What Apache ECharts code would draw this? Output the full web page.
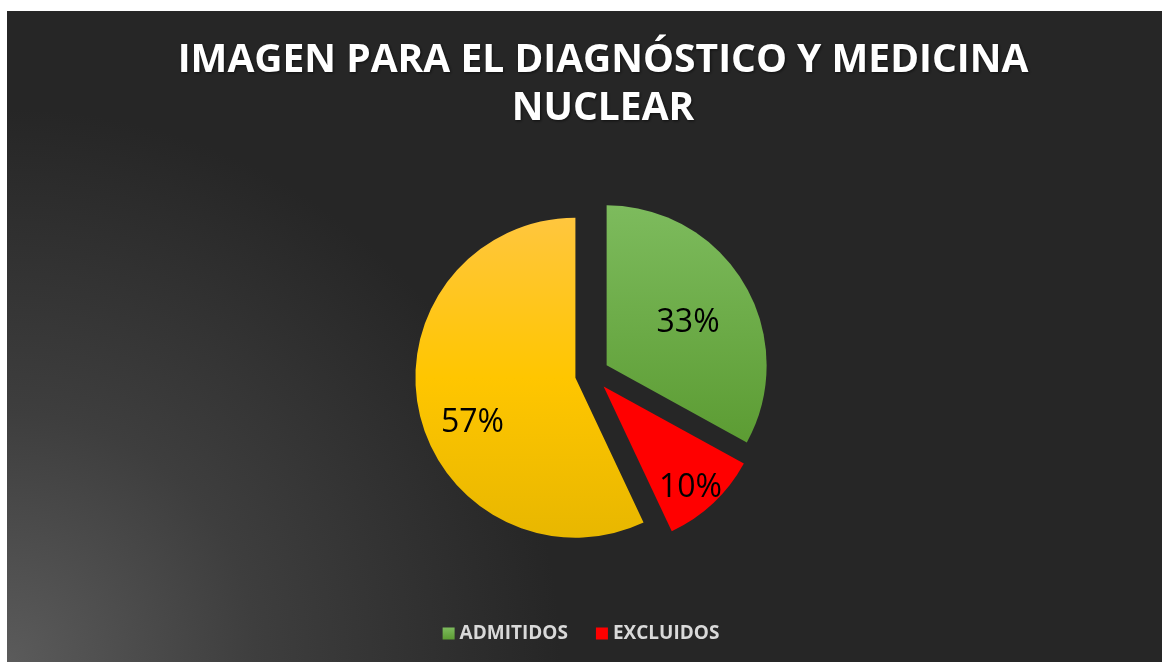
<!DOCTYPE html>
<html>
<head>
<meta charset="utf-8">
<title>Imagen para el diagnóstico y medicina nuclear</title>
<script src="https://cdn.jsdelivr.net/npm/echarts@6/dist/echarts.min.js"></script>
<style>
	html, body { margin: 0; padding: 0; background: #ffffff; }
	#graph1 { width: 1162px; height: 662px; }
</style>
</head>
<body>
<div id="graph1"></div>
<script>
// datos del gráfico
var categorias = ['ADMITIDOS', 'EXCLUIDOS', 'OTROS'];
var valores = [33, 10, 57];
var leyenda = ['ADMITIDOS', 'EXCLUIDOS'];
var titulo = 'IMAGEN PARA EL DIAGNÓSTICO Y MEDICINA\nNUCLEAR';

(function(){

	var mychart = echarts.init(document.querySelector("#graph1"));

	// colores de cada sector (degradado de arriba a abajo)
	var colores = [
		new echarts.graphic.LinearGradient(0, 0, 0, 1, [
			{offset: 0, color: '#7dbb5d'},
			{offset: 1, color: '#5c9c33'}
		]),
		'#ff0000',
		new echarts.graphic.LinearGradient(0, 0, 0, 1, [
			{offset: 0, color: '#ffc63e'},
			{offset: 0.5, color: '#ffc600'},
			{offset: 1, color: '#e8b700'}
		])
	];
	// ajuste de las etiquetas, como en Excel
	var desplaz = [[10, 0], [30, 41], [-22, 27]];

	var datos = [];
	for (var i = 0; i < categorias.length; ++i) {
		datos.push({
			name: categorias[i],
			value: valores[i],
			selected: true,
			itemStyle: { color: colores[i] }
		});
	}

	option = {
		graphic: [
			{
				type: 'rect',
				left: 7,
				top: 11,
				z: -10,
				silent: true,
				shape: { width: 1155, height: 651 },
				style: {
					fill: {
						type: 'radial',
						x: 0, y: 1, r: 0.85,
						colorStops: [
							{offset: 0, color: '#5b5b5b'},
							{offset: 0.45, color: '#3e3e3e'},
							{offset: 1, color: '#262626'}
						]
					}
				}
			}
		],
		title: {
			text: titulo,
			left: 598,
			textAlign: 'center',
			top: 32,
			textStyle: {
				color: '#ffffff',
				fontFamily: 'Open Sans',
				fontWeight: 'bold',
				fontSize: 39,
				lineHeight: 48,
				textShadowColor: 'rgba(0,0,0,0.6)',
				textShadowBlur: 3,
				textShadowOffsetX: 1,
				textShadowOffsetY: 1
			}
		},
		legend: {
			data: leyenda,
			bottom: 14,
			left: 'center',
			icon: 'rect',
			itemWidth: 12,
			itemHeight: 12,
			itemGap: 28,
			selectedMode: false,
			textStyle: {
				color: '#d9d9d9',
				fontFamily: 'Open Sans',
				fontWeight: 'bold',
				fontSize: 19
			}
		},
		series: [
			{
				name: 'Imagen',
				type: 'pie',
				center: [592, 374],
				radius: 160,
				startAngle: 90,
				selectedMode: 'multiple',
				selectedOffset: 17,
				animation: false,
				label: {
					show: true,
					position: 'inside',
					color: '#000000',
					fontFamily: 'Open Sans',
					fontSize: 32,
					formatter: function(p){ return Math.round(p.percent) + '%'; }
				},
				labelLayout: function(params){
					var d = desplaz[params.dataIndex];
					return { dx: d[0], dy: d[1] };
				},
				labelLine: { show: false },
				emphasis: { scale: false },
				itemStyle: { borderWidth: 0 },
				data: datos
			}
		]
	};

	mychart.setOption(option);

	window.addEventListener("resize", function(){
		mychart.resize();
	});
})();
</script>
</body>
</html>
